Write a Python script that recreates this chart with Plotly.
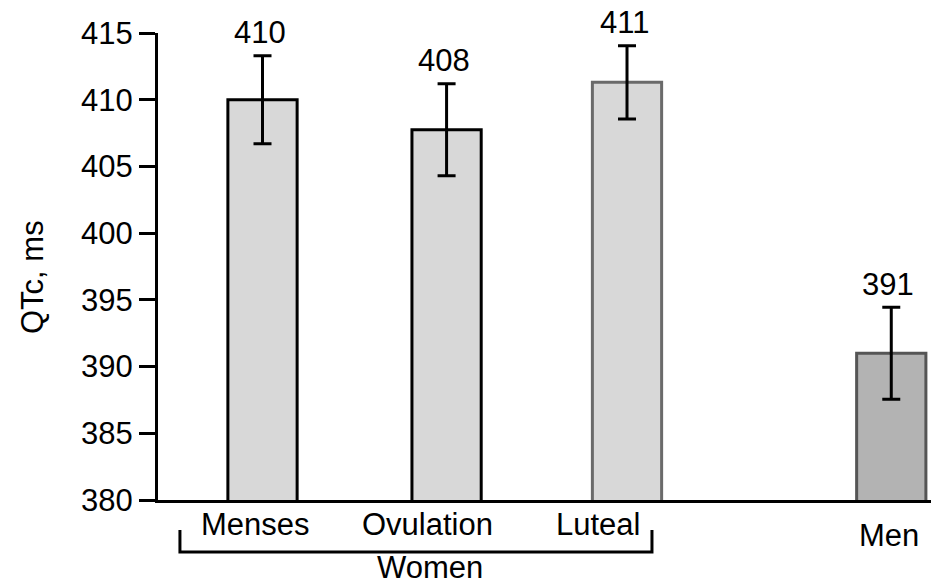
import plotly.graph_objects as go

# QTc by menstrual phase (women) and in men
categories = ["Menses", "Ovulation", "Luteal", "Men"]
qtc_mean = [410.0, 407.75, 411.3, 391.0]
qtc_err = [3.3, 3.45, 2.75, 3.45]
y_ticks = [380, 385, 390, 395, 400, 405, 410, 415]
group_label = "Women"

# layout: slot centres on the x axis (women grouped, men set apart)
slots = [1.0, 2.01, 3.0, 4.45]
bar_fill = ["#d8d8d8", "#d8d8d8", "#d8d8d8", "#b3b3b3"]
bar_edge = ["#000000", "#000000", "#6a6a6a", "#555555"]
FONT = "Liberation Sans, Arial, sans-serif"
FS = 31

fig = go.Figure()
fig.add_trace(go.Bar(
    x=slots,
    y=qtc_mean,
    base=0,
    width=0.38,
    marker=dict(color=bar_fill, line=dict(color=bar_edge, width=3)),
    error_y=dict(type="data", array=qtc_err, visible=True,
                 color="#000000", thickness=3, width=9),
    hoverinfo="skip",
))

annotations = []
# value labels above the error bars
for x, v, e in zip(slots, qtc_mean, qtc_err):
    annotations.append(dict(
        x=x, y=v + e, xref="x", yref="y", text=f"{round(v)}",
        showarrow=False, yanchor="middle", yshift=23, xshift=-3,
        font=dict(family=FONT, size=FS, color="#000"),
    ))

# category labels under the axis
cat_x = [0.959, 1.903, 2.841, 4.437]
cat_y = [-0.0525, -0.0525, -0.0525, -0.075]
for name, x, y in zip(categories, cat_x, cat_y):
    annotations.append(dict(
        x=x, y=y, xref="x", yref="paper", text=name, showarrow=False,
        yanchor="middle", font=dict(family=FONT, size=FS, color="#000"),
    ))

annotations.append(dict(
    x=1.919, y=-0.1435, xref="x", yref="paper", text=group_label,
    showarrow=False, yanchor="middle",
    font=dict(family=FONT, size=FS, color="#000"),
))

# axis title
annotations.append(dict(
    x=-0.163, y=0.4775, xref="paper", yref="paper", text="QTc, ms",
    showarrow=False, textangle=-90, xanchor="center", yanchor="middle",
    font=dict(family=FONT, size=FS, color="#000"),
))

# bracket grouping the three women's phases
bracket = dict(type="path", xref="x", yref="paper",
               path="M 0.547,-0.0642 L 0.547,-0.1113 L 3.137,-0.1113 L 3.137,-0.0642",
               line=dict(color="#000", width=3))

fig.update_layout(
    width=931, height=588,
    margin=dict(l=158, r=0, t=33, b=88),
    paper_bgcolor="white", plot_bgcolor="white",
    showlegend=False,
    annotations=annotations,
    shapes=[bracket],
    xaxis=dict(range=[0.4266, 4.668], showticklabels=False, ticks="",
               showgrid=False, zeroline=False, showline=True,
               linecolor="#000", linewidth=3, layer="below traces"),
    yaxis=dict(range=[380, 415], tickvals=y_ticks, ticks="outside",
               ticklen=16, tickwidth=3, tickcolor="#000",
               showgrid=False, zeroline=False, showline=True,
               linecolor="#000", linewidth=3,
               tickfont=dict(family=FONT, size=FS, color="#000")),
)

fig.write_html("out.html")
